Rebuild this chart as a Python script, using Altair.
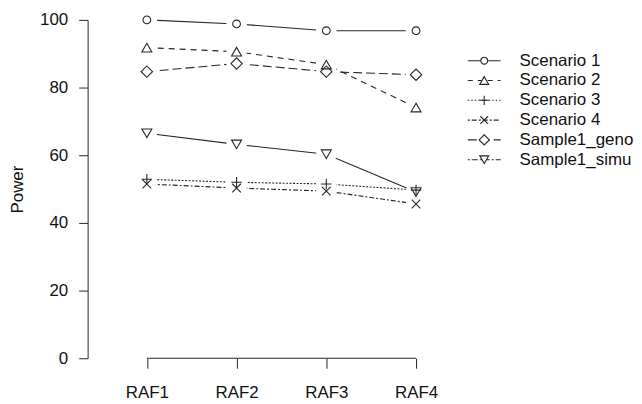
import altair as alt
import pandas as pd

# ---------------- data ----------------
categories = ["RAF1", "RAF2", "RAF3", "RAF4"]
series_names = ["Scenario 1", "Scenario 2", "Scenario 3", "Scenario 4",
                "Sample1_geno", "Sample1_simu"]
scenario_1 = [100.0, 98.8, 96.8, 96.8]
scenario_2 = [91.8, 90.6, 86.8, 74.1]
scenario_3 = [52.9, 52.0, 51.5, 49.7]
scenario_4 = [51.5, 50.3, 49.4, 45.6]
sample1_geno = [84.7, 87.1, 84.7, 83.8]
sample1_simu = [66.5, 63.2, 60.3, 49.1]

values_by_series = dict(zip(series_names, [scenario_1, scenario_2, scenario_3,
                                           scenario_4, sample1_geno, sample1_simu]))

rows = []
for s in series_names:
    for i, (c, v) in enumerate(zip(categories, values_by_series[s])):
        rows.append({"series": s, "raf": c, "pos": i + 1, "power": v})
df = pd.DataFrame(rows)
legend_df = pd.DataFrame({"series": series_names, "row": list(range(len(series_names)))})

# ---------------- styles ----------------
INK = "#262626"
FONT = "Liberation Sans"
PLUS = "M-1,0L1,0M0,-1L0,1"
XMARK = "M-1,-1L1,1M-1,1L1,-1"
SHAPES = {"Scenario 1": "circle", "Scenario 2": "triangle-up", "Scenario 3": PLUS,
          "Scenario 4": XMARK, "Sample1_geno": "diamond", "Sample1_simu": "triangle-down"}
SIZES = {"Scenario 1": 60, "Scenario 2": 100, "Scenario 3": 110,
         "Scenario 4": 75, "Sample1_geno": 130, "Sample1_simu": 100}
PLOT_DASH = {"Scenario 1": None, "Scenario 2": [6, 5], "Scenario 3": [2, 1.5],
             "Scenario 4": [2, 2, 5, 2], "Sample1_geno": [9, 4], "Sample1_simu": None}
LEGEND_DASH = {"Scenario 1": [1, 0], "Scenario 2": [5, 5], "Scenario 3": [1.5, 2],
               "Scenario 4": [2, 2, 5, 2], "Sample1_geno": [9, 4],
               "Sample1_simu": [2, 2, 6, 2]}
GAP_COLOR = "white"

x_scale = alt.Scale(domain=[0.34, 4.222], nice=False, zero=False)
y_scale = alt.Scale(domain=[0, 100], nice=False, zero=False)
label_expr = "[" + ",".join(f"'{c}'" for c in categories) + "][datum.value - 1]"

x_axis = alt.Axis(values=list(range(1, len(categories) + 1)), labelExpr=label_expr,
                  tickSize=10, labelPadding=16, domain=False, grid=False, title=None)
y_axis = alt.Axis(values=[0, 20, 40, 60, 80, 100], tickSize=9, labelPadding=11,
                  grid=False, title="Power", titlePadding=13)

X = alt.X("pos:Q", scale=x_scale, axis=x_axis)
Y = alt.Y("power:Q", scale=y_scale, axis=y_axis)

layers = []
# x-axis line from first to last tick (R style)
layers.append(
    alt.Chart(df).transform_aggregate(lo="min(pos)", hi="max(pos)")
    .mark_rule(color=INK, strokeWidth=1)
    .encode(x=alt.X("lo:Q", scale=x_scale, axis=x_axis), x2="hi:Q", y=alt.datum(0))
)
for s in series_names:
    base = alt.Chart(df).transform_filter(alt.datum.series == s)
    mk = dict(color=INK, strokeWidth=1.1)
    if PLOT_DASH[s]:
        mk["strokeDash"] = PLOT_DASH[s]
    layers.append(base.mark_line(**mk).encode(x=X, y=Y))
    # gap around each point (R type="b")
    layers.append(base.mark_point(shape="circle", filled=True, fill=GAP_COLOR,
                                  strokeWidth=0, size=430, opacity=1)
                  .encode(x=X, y=Y))
for s in series_names:
    base = alt.Chart(df).transform_filter(alt.datum.series == s)
    layers.append(base.mark_point(shape=SHAPES[s], size=SIZES[s], filled=False,
                                  color=INK, strokeWidth=1.1, opacity=1)
                  .encode(x=X, y=Y))

main = alt.layer(*layers).properties(width=350, height=340)

# ---------------- legend panel ----------------
LY = alt.Y("row:Q", scale=alt.Scale(domain=[-41 / 19.9, 299 / 19.9], reverse=True,
                                    nice=False, zero=False), axis=None)
leg_layers = [
    alt.Chart(legend_df).mark_rule(color=INK, strokeWidth=1.1).encode(
        x=alt.value(10), x2=alt.value(43), y=LY,
        strokeDash=alt.StrokeDash("series:N", legend=None,
                                  scale=alt.Scale(domain=series_names,
                                                  range=[LEGEND_DASH[s] for s in series_names])))
]
for s in series_names:
    leg_layers.append(
        alt.Chart(legend_df).transform_filter(alt.datum.series == s)
        .mark_point(shape=SHAPES[s], size=SIZES[s] * 0.8, filled=True, fill="white",
                    stroke=INK, strokeWidth=1.1, opacity=1)
        .encode(x=alt.value(26.5), y=LY)
    )
leg_layers.append(
    alt.Chart(legend_df).mark_text(align="left", baseline="middle", fontSize=17,
                                   font=FONT, color="#111")
    .encode(x=alt.value(62), y=LY, text="series:N")
)
legend = alt.layer(*leg_layers).properties(width=168, height=340)

chart = (
    alt.hconcat(main, legend, spacing=20)
    .properties(padding={"left": 0, "top": 0, "right": 0, "bottom": 0})
    .configure_view(stroke=None)
    .configure_axis(labelFont=FONT, titleFont=FONT, labelFontSize=17, titleFontSize=17,
                    domainColor=INK, tickColor=INK, labelColor="#111", titleColor="#111",
                    titleFontWeight="normal", domainWidth=1, tickWidth=1)
)

chart.save("out.html", embed_options={"renderer": "svg", "actions": False})
